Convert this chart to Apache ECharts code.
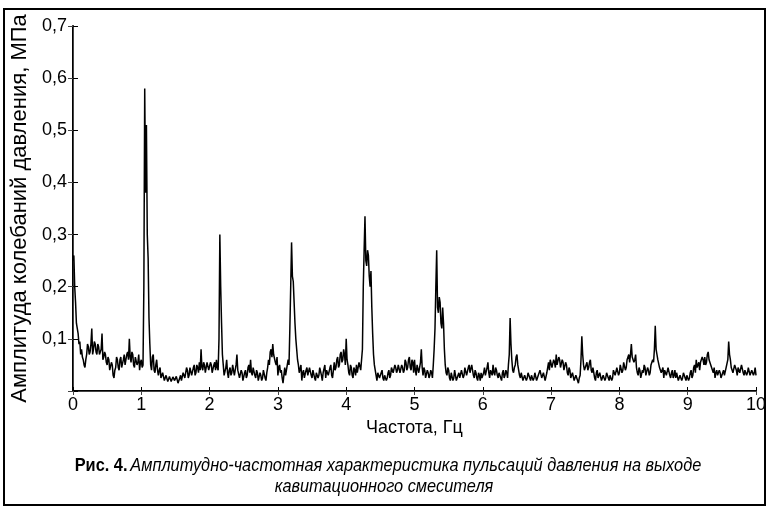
<!DOCTYPE html>
<html lang="ru">
<head>
  <meta charset="UTF-8">
  <title>АЧХ пульсаций давления</title>
  <style>
    html, body { margin: 0; padding: 0; background: #fff; }
    #main { width: 767px; height: 507px; }
  </style>
</head>
<body>
  <div id="main"></div>
  <script src="https://cdn.jsdelivr.net/npm/echarts@6/dist/echarts.min.js"></script>
  <script>
    var myChart = echarts.init(document.getElementById("main"));

    // шаг по частоте, Гц
    var freqStep = 0.0125;
    var xTicks = [0, 1, 2, 3, 4, 5, 6, 7, 8, 9, 10];
    var yTicks = [0.1, 0.2, 0.3, 0.4, 0.5, 0.6, 0.7];

    // амплитуда, МПа (20 точек = 0.25 Гц в строке)
    var amp = [
      0.25,0.26, 0.20,0.17, 0.13,0.12, 0.11,0.09, 0.095,0.07, 0.08,0.065, 0.06,0.05, 0.045,0.06, 0.07,0.09, 0.085,0.07,
      0.075,0.09, 0.12,0.07, 0.08,0.095, 0.09,0.075, 0.07,0.09, 0.085,0.07, 0.07,0.08, 0.11,0.06, 0.065,0.075, 0.07,0.055,
      0.05,0.065, 0.06,0.04, 0.04,0.055, 0.05,0.03, 0.025,0.04, 0.045,0.065, 0.06,0.045, 0.04,0.06, 0.065,0.045, 0.045,0.06,
      0.07,0.05, 0.05,0.07, 0.075,0.06, 0.10,0.065, 0.055,0.075, 0.07,0.05, 0.045,0.065, 0.065,0.05, 0.055,0.07, 0.04,0.055,
      0.06,0.045, 0.05,0.20, 0.58,0.38, 0.51,0.30, 0.255,0.14, 0.09,0.05, 0.04,0.065, 0.07,0.04, 0.035,0.05, 0.06,0.04,
      0.03,0.04, 0.045,0.025, 0.025,0.035, 0.035,0.02, 0.02,0.03, 0.03,0.018, 0.02,0.028, 0.025,0.018, 0.02,0.027, 0.03,0.02,
      0.02,0.028, 0.025,0.015, 0.015,0.025, 0.03,0.02, 0.02,0.035, 0.035,0.025, 0.025,0.045, 0.04,0.025, 0.03,0.045, 0.045,0.03,
      0.03,0.045, 0.05,0.03, 0.035,0.05, 0.045,0.035, 0.055,0.04, 0.08,0.045, 0.04,0.055, 0.05,0.035, 0.035,0.055, 0.055,0.04,
      0.04,0.055, 0.05,0.035, 0.035,0.05, 0.055,0.04, 0.06,0.045, 0.04,0.10, 0.30,0.20, 0.13,0.07, 0.05,0.03, 0.03,0.045,
      0.06,0.035, 0.025,0.04, 0.045,0.03, 0.035,0.05, 0.05,0.03, 0.03,0.05, 0.07,0.04, 0.04,0.025, 0.025,0.04, 0.035,0.02,
      0.02,0.035, 0.04,0.025, 0.03,0.045, 0.05,0.035, 0.06,0.035, 0.03,0.045, 0.045,0.03, 0.025,0.04, 0.035,0.02, 0.02,0.035,
      0.03,0.02, 0.025,0.04, 0.04,0.025, 0.02,0.035, 0.045,0.06, 0.05,0.075, 0.08,0.065, 0.09,0.07, 0.07,0.055, 0.05,0.065,
      0.03,0.045, 0.05,0.035, 0.04,0.025, 0.015,0.03, 0.045,0.03, 0.03,0.05, 0.06,0.05, 0.12,0.20, 0.285,0.22, 0.21,0.17,
      0.13,0.10, 0.08,0.06, 0.05,0.035, 0.035,0.05, 0.02,0.035, 0.04,0.025, 0.025,0.04, 0.045,0.03, 0.03,0.045, 0.045,0.03,
      0.025,0.04, 0.04,0.025, 0.02,0.035, 0.035,0.025, 0.03,0.045, 0.045,0.03, 0.02,0.035, 0.035,0.05, 0.025,0.04, 0.04,0.03,
      0.03,0.045, 0.05,0.03, 0.025,0.04, 0.055,0.04, 0.045,0.06, 0.065,0.045, 0.05,0.07, 0.075,0.055, 0.06,0.08, 0.07,0.05,
      0.10,0.06, 0.05,0.035, 0.03,0.05, 0.045,0.03, 0.025,0.045, 0.04,0.03, 0.05,0.035, 0.035,0.055, 0.055,0.04, 0.06,0.08,
      0.20,0.27, 0.335,0.25, 0.24,0.27, 0.26,0.22, 0.20,0.23, 0.16,0.11, 0.07,0.05, 0.04,0.03, 0.02,0.035, 0.035,0.025,
      0.025,0.035, 0.04,0.025, 0.02,0.03, 0.03,0.02, 0.025,0.035, 0.04,0.025, 0.03,0.045, 0.045,0.035, 0.035,0.05, 0.045,0.035,
      0.04,0.05, 0.05,0.035, 0.035,0.05, 0.045,0.035, 0.04,0.06, 0.055,0.04, 0.045,0.06, 0.065,0.045, 0.04,0.06, 0.055,0.035,
      0.06,0.04, 0.03,0.05, 0.05,0.035, 0.035,0.055, 0.08,0.045, 0.03,0.045, 0.04,0.025, 0.025,0.04, 0.035,0.025, 0.03,0.04,
      0.035,0.025, 0.05,0.08, 0.12,0.20, 0.27,0.16, 0.15,0.18, 0.17,0.13, 0.12,0.16, 0.13,0.08, 0.05,0.035, 0.03,0.045,
      0.04,0.025, 0.02,0.035, 0.035,0.02, 0.025,0.04, 0.03,0.02, 0.02,0.03, 0.035,0.025, 0.025,0.04, 0.04,0.025, 0.03,0.045,
      0.045,0.03, 0.03,0.045, 0.05,0.035, 0.035,0.05, 0.04,0.03, 0.025,0.04, 0.035,0.025, 0.02,0.035, 0.03,0.02, 0.035,0.025,
      0.025,0.035, 0.045,0.03, 0.03,0.045, 0.055,0.035, 0.025,0.04, 0.04,0.03, 0.05,0.035, 0.03,0.045, 0.04,0.03, 0.025,0.035,
      0.035,0.025, 0.02,0.035, 0.04,0.025, 0.03,0.04, 0.035,0.025, 0.05,0.07, 0.14,0.09, 0.06,0.04, 0.035,0.045, 0.05,0.065,
      0.07,0.05, 0.04,0.03, 0.025,0.035, 0.035,0.02, 0.02,0.03, 0.03,0.02, 0.025,0.035, 0.035,0.025, 0.02,0.03, 0.03,0.02,
      0.025,0.035, 0.035,0.02, 0.02,0.03, 0.03,0.04, 0.04,0.025, 0.025,0.035, 0.035,0.02, 0.02,0.035, 0.045,0.055, 0.04,0.06,
      0.06,0.045, 0.045,0.06, 0.055,0.045, 0.07,0.05, 0.05,0.065, 0.06,0.045, 0.045,0.06, 0.055,0.04, 0.04,0.055, 0.05,0.035,
      0.03,0.045, 0.04,0.025, 0.025,0.035, 0.035,0.02, 0.02,0.03, 0.03,0.02, 0.015,0.025, 0.03,0.06, 0.105,0.07, 0.05,0.04,
      0.04,0.05, 0.055,0.04, 0.045,0.055, 0.06,0.04, 0.035,0.045, 0.045,0.025, 0.02,0.035, 0.04,0.025, 0.025,0.035, 0.035,0.02,
      0.02,0.03, 0.03,0.02, 0.025,0.035, 0.035,0.025, 0.02,0.03, 0.03,0.02, 0.025,0.04, 0.04,0.03, 0.03,0.045, 0.045,0.03,
      0.035,0.05, 0.05,0.035, 0.04,0.055, 0.055,0.04, 0.045,0.06, 0.06,0.07, 0.055,0.07, 0.09,0.065, 0.065,0.055, 0.06,0.07,
      0.045,0.035, 0.03,0.045, 0.04,0.025, 0.025,0.04, 0.035,0.05, 0.045,0.03, 0.03,0.045, 0.04,0.03, 0.035,0.05, 0.05,0.06,
      0.055,0.08, 0.125,0.08, 0.07,0.06, 0.06,0.045, 0.045,0.035, 0.035,0.045, 0.025,0.04, 0.04,0.03, 0.03,0.045, 0.045,0.03,
      0.025,0.035, 0.04,0.025, 0.03,0.04, 0.025,0.035, 0.035,0.02, 0.02,0.03, 0.03,0.02, 0.025,0.035, 0.035,0.025, 0.02,0.03,
      0.03,0.02, 0.025,0.035, 0.04,0.025, 0.03,0.045, 0.05,0.035, 0.06,0.045, 0.045,0.055, 0.04,0.055, 0.055,0.065, 0.06,0.05,
      0.065,0.05, 0.055,0.07, 0.075,0.06, 0.06,0.05, 0.05,0.04, 0.035,0.045, 0.025,0.035, 0.04,0.03, 0.03,0.04, 0.035,0.025,
      0.025,0.035, 0.04,0.03, 0.03,0.045, 0.045,0.06, 0.095,0.07, 0.06,0.045, 0.045,0.035, 0.035,0.05, 0.05,0.04, 0.03,0.045,
      0.045,0.035, 0.035,0.05, 0.05,0.035, 0.03,0.04, 0.04,0.03, 0.035,0.045, 0.045,0.03, 0.03,0.04, 0.04,0.03, 0.035,0.045,
      0.03
    ];

    var captionBold = "Рис. 4.";
    var captionLine1 = "Амплитудно-частотная характеристика пульсаций давления на выходе";
    var captionLine2 = "кавитационного смесителя";

    var points = [];
    for (var i = 0; i < amp.length; i++) {
      points.push([+(i * freqStep).toFixed(4), amp[i]]);
    }

    var font = "'Liberation Sans', Arial, sans-serif";

    var fmtY = function (v) {
      if (yTicks.indexOf(+v.toFixed(2)) < 0) return "";
      return v.toFixed(1).replace(".", ",");
    };

    var capRich = {
      b: { fontFamily: font, fontWeight: "bold", fontSize: 19, fill: "#000" },
      i: { fontFamily: font, fontStyle: "italic", fontWeight: "normal", fontSize: 19, fill: "#000" }
    };

    option = {
      backgroundColor: "#fff",
      animation: false,
      graphic: [{
        type: "rect",
        shape: { x: 4, y: 9, width: 761, height: 496 },
        style: { fill: "none", stroke: "#000", lineWidth: 2 },
        silent: true
      }, {
        type: "text",
        x: 388, y: 466,
        scaleX: 0.86,
        style: {
          text: "{b|" + captionBold + "} {i|" + captionLine1 + "}",
          align: "center", verticalAlign: "middle",
          rich: capRich
        },
        silent: true
      }, {
        type: "text",
        x: 384, y: 487,
        scaleX: 0.86,
        style: {
          text: "{i|" + captionLine2 + "}",
          align: "center", verticalAlign: "middle",
          rich: capRich
        },
        silent: true
      }],
      grid: { left: 73, right: 11, top: 26, bottom: 116, outerBoundsMode: "none", containLabel: false },
      xAxis: [{
        type: "value",
        min: 0, max: 10, interval: 1,
        name: "Частота, Гц",
        nameLocation: "middle",
        nameGap: 23,
        nameTextStyle: { fontFamily: font, fontSize: 18, color: "#000" },
        axisLine: { lineStyle: { color: "#000", width: 2 } },
        axisTick: { inside: true, length: 4, lineStyle: { color: "#000" } },
        axisLabel: { fontFamily: font, fontSize: 18, color: "#000", margin: 5 },
        splitLine: { show: false }
      }, {
        type: "value",
        position: "top",
        min: 0, max: 10, interval: 1,
        axisLine: { show: true, lineStyle: { color: "#444", width: 1 } },
        axisTick: { inside: true, length: 4, lineStyle: { color: "#444" } },
        axisLabel: { show: false },
        splitLine: { show: false }
      }],
      yAxis: [{
        type: "value",
        min: 0, max: 0.7, interval: 0.1,
        name: "Амплитуда колебаний давления, МПа",
        nameLocation: "middle",
        nameGap: 41,
        nameTextStyle: { fontFamily: font, fontSize: 22, color: "#000" },
        axisLine: { show: true, lineStyle: { color: "#000", width: 2 } },
        axisTick: { inside: true, length: 5, lineStyle: { color: "#000" } },
        axisLabel: { fontFamily: font, fontSize: 18, color: "#000", margin: 6, formatter: fmtY },
        splitLine: { show: false }
      }, {
        type: "value",
        position: "right",
        min: 0, max: 0.7, interval: 0.1,
        axisLine: { show: true, lineStyle: { color: "#444", width: 1 } },
        axisTick: { inside: true, length: 5, lineStyle: { color: "#444" } },
        axisLabel: { show: false },
        splitLine: { show: false }
      }],
      series: [{
        type: "line",
        xAxisIndex: 0,
        yAxisIndex: 0,
        data: points,
        showSymbol: false,
        lineStyle: { color: "#000", width: 1.5 },
        silent: true
      }]
    };

    myChart.setOption(option);
  </script>
</body>
</html>
